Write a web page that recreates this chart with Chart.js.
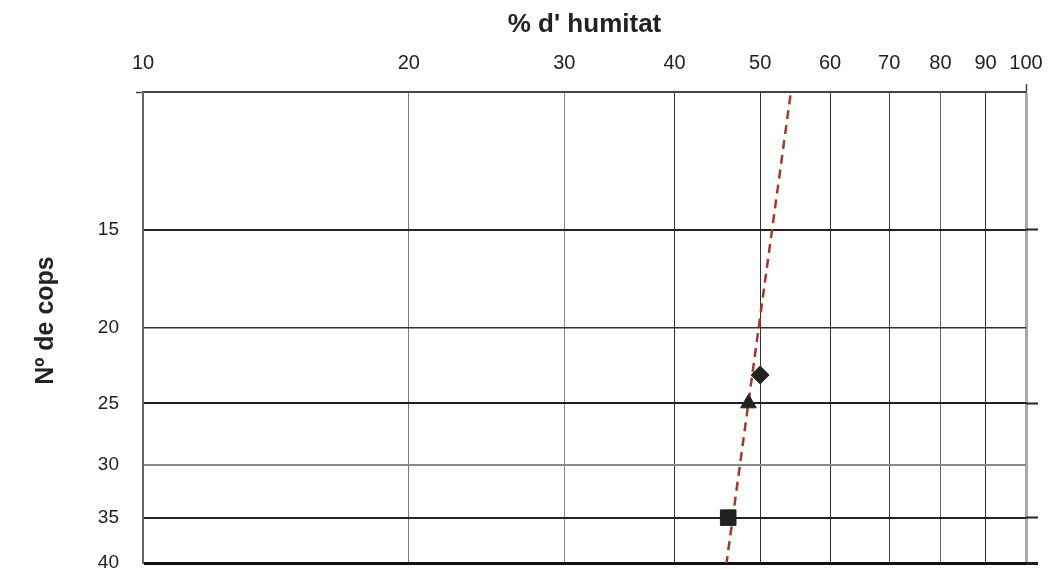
<!DOCTYPE html>
<html lang="ca">
<head>
    <meta charset="UTF-8">
    <title>Límit líquid</title>
    <script src="https://cdn.jsdelivr.net/npm/chart.js"></script>
    <style>
        html, body { margin: 0; padding: 0; background: #fff; }
        #wrap { width: 1058px; height: 569px; }
    </style>
</head>
<body>
    <div id="wrap"><canvas id="chart"></canvas></div>
    <script>
        // ticks
        const xTicks = [10, 20, 30, 40, 50, 60, 70, 80, 90, 100];
        const yTicks = [10, 15, 20, 25, 30, 35, 40];
        const yLabels = ['', '15', '20', '25', '30', '35', '40'];

        // assaigs (humitat %, nº de cops)
        const humitat = [50, 48.5, 46];
        const cops = [23, 25, 35];
        const markers = ['rectRot', 'triangle', 'rect'];

        // recta de flux
        const fluxHumitat = [54.1, 45.8];
        const fluxCops = [10.1, 40];

        const font = 'Arial, "Liberation Sans", sans-serif';

        const xGridColor = { 10: 'rgba(0,0,0,0)', 20: '#7a7a7a', 30: '#8a8a8a', 40: '#333', 50: '#333',
            60: '#333', 70: '#444', 80: '#666', 90: '#333', 100: '#aaa' };
        const yGridColor = { 10: 'rgba(0,0,0,0)', 15: '#222', 20: '#333', 25: '#222', 30: '#8a8a8a', 35: '#222', 40: '#111' };
        const yGridWidth = { 10: 1, 15: 2, 20: 1.5, 25: 2, 30: 2, 35: 2, 40: 3 };
        const markerSize = { rectRot: 9, triangle: 9, rect: 11 };

        const pointSets = humitat.map((h, i) => ({
            type: 'scatter',
            data: [{ x: h, y: cops[i] }],
            pointStyle: markers[i],
            pointRadius: markerSize[markers[i]],
            backgroundColor: '#222',
            borderColor: '#222',
            order: 1
        }));

        new Chart(document.getElementById('chart'), {
            type: 'scatter',
            data: {
                datasets: [
                    ...pointSets,
                    {
                        type: 'line',
                        data: fluxHumitat.map((h, i) => ({ x: h, y: fluxCops[i] })),
                        borderColor: '#a3392b',
                        borderWidth: 2.5,
                        borderDash: [9, 6],
                        pointRadius: 0,
                        fill: false,
                        order: 2
                    }
                ]
            },
            options: {
                responsive: true,
                maintainAspectRatio: false,
                animation: false,
                layout: { padding: { top: 0, left: 0, right: 0, bottom: 6 }, autoPadding: false },
                plugins: { legend: { display: false }, tooltip: { enabled: false } },
                scales: {
                    x: {
                        type: 'logarithmic',
                        position: 'top',
                        min: 10,
                        max: 100,
                        afterBuildTicks: s => { s.ticks = xTicks.map(v => ({ value: v })); },
                        afterFit: s => {
                            s.height = 92;
                            s.paddingLeft = 0; s.paddingRight = 0;
                        },
                        ticks: {
                            callback: v => String(v),
                            autoSkip: false,
                            maxRotation: 0,
                            padding: 9,
                            color: '#222',
                            font: { family: font, size: 20 }
                        },
                        grid: {
                            color: c => xGridColor[c.tick.value] || '#555',
                            lineWidth: c => c.tick.value === 100 ? 3 : 1,
                            drawTicks: true,
                            tickLength: 8,
                            tickColor: c => c.tick.value === 100 ? '#444' : 'rgba(0,0,0,0)',
                            tickWidth: 1.5
                        },
                        border: { display: true, color: '#444', width: 2 },
                        title: {
                            display: true,
                            text: "% d' humitat",
                            color: '#222',
                            font: { family: font, size: 26, weight: 'bold' },
                            padding: { top: 9, bottom: 0 }
                        }
                    },
                    y: {
                        type: 'logarithmic',
                        position: 'left',
                        reverse: true,
                        min: 10,
                        max: 40,
                        afterBuildTicks: s => { s.ticks = yTicks.map(v => ({ value: v })); },
                        afterFit: s => {
                            s.width = 143;
                            s.paddingTop = 0; s.paddingBottom = 0;
                        },
                        ticks: {
                            callback: (v, i) => yLabels[i],
                            autoSkip: false,
                            padding: 17,
                            color: '#222',
                            font: { family: font, size: 19 }
                        },
                        grid: {
                            color: c => yGridColor[c.tick.value] || '#555',
                            lineWidth: c => yGridWidth[c.tick.value] || 1,
                            drawTicks: true,
                            tickLength: 7,
                            tickColor: c => c.tick.value === 10 ? '#444' : 'rgba(0,0,0,0)',
                            tickWidth: 1.5
                        },
                        border: { display: true, color: '#666', width: 2 },
                        title: {
                            display: true,
                            text: '  Nº de cops',
                            color: '#222',
                            font: { family: font, size: 25, weight: 'bold' },
                            padding: { top: 31, bottom: 0 }
                        }
                    },
                    y2: {
                        type: 'logarithmic',
                        position: 'right',
                        reverse: true,
                        min: 10,
                        max: 40,
                        afterBuildTicks: s => { s.ticks = yTicks.map(v => ({ value: v })); },
                        afterFit: s => {
                            s.width = 32;
                            s.paddingTop = 0; s.paddingBottom = 0;
                        },
                        ticks: { display: false },
                        grid: {
                            drawOnChartArea: false,
                            drawTicks: true,
                            tickLength: 12,
                            tickColor: c => [15, 25, 35, 40].includes(c.tick.value) ? '#222' : 'rgba(0,0,0,0)',
                            tickWidth: c => c.tick.value === 40 ? 3 : 2
                        },
                        border: { display: false }
                    }
                }
            }
        });
    </script>
</body>
</html>
